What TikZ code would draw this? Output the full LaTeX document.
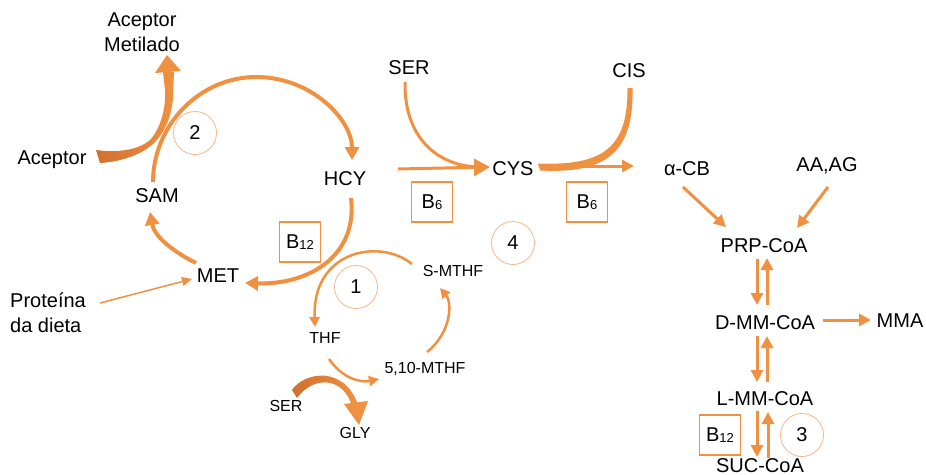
\documentclass[tikz,border=0pt]{standalone}
\usepackage{fontspec}
\setmainfont{Liberation Sans}
\usetikzlibrary{arrows.meta}
\definecolor{org}{RGB}{240,145,65}
\definecolor{orgdark}{RGB}{208,112,45}
\definecolor{orglight}{RGB}{246,180,135}
\newcommand\vsub[1]{\raisebox{-1.5pt}{\fontsize{13}{13}\selectfont #1}}
\begin{document}
\begin{tikzpicture}[x=1pt,y=-1pt,
  lbl/.style={font=\fontsize{20}{24}\selectfont, inner sep=0pt, text height=14.3pt, text depth=0pt},
  mlbl/.style={font=\fontsize{20}{25}\selectfont, inner sep=0pt},
  sml/.style={font=\fontsize{16}{19}\selectfont, inner sep=0pt, text height=11.5pt, text depth=0pt},
  vbox/.style={draw=org, line width=1.6pt, minimum width=41pt, minimum height=40pt, inner sep=0pt, font=\fontsize{20}{24}\selectfont},
  num/.style={circle, draw=orglight, line width=0.8pt, minimum size=43pt, inner sep=0pt, font=\fontsize{20}{24}\selectfont},
  thickarr/.style={draw=org, line width=4pt, -{Triangle[length=13pt,width=14pt]}},
  midarr/.style={draw=org, line width=3pt, -{Triangle[length=12pt,width=12pt]}},
  thinarr/.style={draw=org, line width=2.5pt, -{Triangle[length=10pt,width=10pt]}},
]
\useasboundingbox (0,0) rectangle (926,474);

% ---------- labels ----------
\node[mlbl, align=center] (acm) at (142,32.5) {Aceptor\\Metilado};
\node[lbl] (acep) at (52,157) {Aceptor};
\node[lbl] (sam) at (157,195) {SAM};
\node[lbl] (hcy) at (345,178) {HCY};
\node[lbl] (met) at (218,275) {MET};
\node[mlbl, align=left, anchor=west] (prot) at (10,312.5) {Proteína\\da dieta};
\node[vbox] (b12a) at (300,242) {B\vsub{12}};
\node[num] (c2) at (195,133) {2};
\node[num] (c1) at (356,287) {1};
\node[sml] (thf) at (325,338) {THF};
\node[sml] (smthf) at (453,271) {S-MTHF};
\node[sml] (mthf) at (425,368) {5,10-MTHF};
\node[sml] (ser2) at (286,406) {SER};
\node[sml] (gly) at (355,433) {GLY};
\node[num] (c4) at (513,243) {4};
\node[lbl] (ser) at (409,67) {SER};
\node[lbl] (cis) at (629,70) {CIS};
\node[lbl] (cys) at (513,168) {CYS};
\node[vbox] (b6a) at (432,202) {B\vsub{6}};
\node[vbox] (b6b) at (587,202) {B\vsub{6}};
\node[lbl] (acb) at (687,168) {α-CB};
\node[lbl] (aaag) at (827,164) {AA,AG};
\node[lbl] (prp) at (764,245) {PRP-CoA};
\node[lbl] (dmm) at (765,322) {D-MM-CoA};
\node[lbl] (mma) at (900,320) {MMA};
\node[lbl] (lmm) at (765,398) {L-MM-CoA};
\node[lbl] (suc) at (760,465) {SUC-CoA};
\node[vbox] (b12b) at (720,435) {B\vsub{12}};
\node[num] (c3) at (802,435) {3};

% ---------- coordinates ----------
\coordinate (arcL) at (153,182);
\coordinate (hcyin) at (352,160);
\coordinate (hcyout) at (351,198);
\coordinate (metin) at (245,283);
\coordinate (metout) at (196,263);
\coordinate (samin) at (150,212);
\coordinate (protout) at (100,303);
\coordinate (metin2) at (192,279);
\coordinate (hcyr) at (398,169);
\coordinate (cysin) at (490,167);
\coordinate (serout) at (405,82);
\coordinate (cysout) at (585,166);
\coordinate (acbin) at (634,166);

% ---------- methionine cycle ----------
\draw[thickarr] (arcL) .. controls (153,125) and (200,77) .. (256,77)
                     .. controls (312,77) and (352,120) .. (hcyin);
\draw[thickarr] (hcyout) .. controls (358,255) and (310,285) .. (metin);
\draw[thickarr] (metout) .. controls (170,250) and (154,235) .. (samin);
\draw[draw=org, line width=1.5pt, -{Triangle[length=10pt,width=9pt]}] (protout) -- (metin2);

% Aceptor swoosh (ribbon)
\shade[left color=orgdark, right color=org]
   (96,150) .. controls (118,153) and (140,150) .. (151,139)
   .. controls (160,128) and (166,110) .. (165,90)
   -- (163,72) -- (174,72) -- (173,97)
   .. controls (172,115) and (165,133) .. (153,144)
   .. controls (140,156) and (118,162) .. (100,163) -- cycle;
\fill[org] (167,55) -- (181,71) -- (155,73) -- cycle;

% ---------- transsulfuration ----------
\draw[draw=org, line width=3pt, -{Triangle[length=16pt,width=17pt]}] (hcyr) -- (cysin);
\draw[draw=org, line width=3pt] (serout) .. controls (404,140) and (440,166) .. (478,167);
\fill[org] (538,163.5) .. controls (603,166) and (628,148) .. (627.5,88)
   -- (632.5,88) .. controls (634,152) and (607,174) .. (540,170.5) -- cycle;
\draw[midarr] (cysout) -- (acbin);

% ---------- folate cycle ----------
\coordinate (smout) at (412,264);
\coordinate (thfin) at (315,327);
\coordinate (thfout) at (329,359);
\coordinate (mthfin) at (379,379);
\coordinate (mthfout) at (427,352);
\coordinate (smin) at (440,288);
% SER -> GLY swoosh
\shade[left color=orgdark, right color=org]
   (292,390) .. controls (305,371) and (345,366) .. (358,405)
   -- (352,406) .. controls (343,376) and (313,376) .. (297,398) -- cycle;
\fill[org] (344,404) -- (368,401) -- (359,425) -- cycle;
\draw[thinarr] (smout) .. controls (380,238) and (312,250) .. (thfin);
\draw[white, line width=4.5pt] (332,363) .. controls (340,372) and (345,376) .. (352,378);
\draw[thinarr] (thfout) .. controls (342,378) and (360,383) .. (mthfin);
\draw[thinarr] (mthfout) .. controls (452,332) and (452,302) .. (smin);

% ---------- propionate pathway ----------
\draw[midarr] (683,187) -- (726,227);
\draw[midarr] (828,187) -- (797,228);
\draw[midarr] (757,259) -- (757,305);
\draw[midarr] (767,305) -- (767,258);
\draw[midarr] (757,336) -- (757,382);
\draw[midarr] (767,382) -- (767,336);
\draw[midarr] (757,411) -- (757,457);
\draw[midarr] (768,458) -- (768,412);
\draw[midarr] (823,320) -- (871,320);
\end{tikzpicture}
\end{document}
